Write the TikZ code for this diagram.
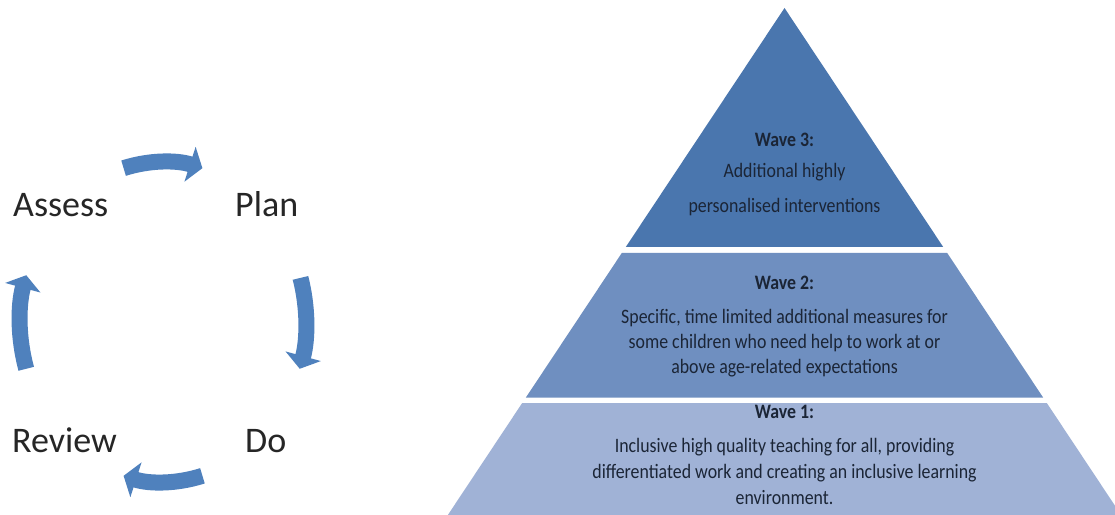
\documentclass[tikz,border=0pt]{standalone}
\usepackage{fontspec}
\setmainfont{Carlito}
\newfontfamily\wavefont[FakeStretch=0.87]{Carlito}
\usetikzlibrary{arrows.meta,calc}
\definecolor{arrowblue}{HTML}{4F81BD}
\definecolor{wavethree}{HTML}{4A76AE}
\definecolor{wavetwo}{HTML}{6F8FC0}
\definecolor{waveone}{HTML}{A0B2D6}
\definecolor{wavetext}{HTML}{1B2536}
\definecolor{labeltext}{HTML}{262626}
\tikzset{
  cyc/.style={draw=arrowblue, line width=16pt, -{Triangle[width=36pt,length=13pt]}, arrowblue},
  steplabel/.style={anchor=base west, inner sep=0pt, text=labeltext, font=\fontsize{36}{40}\selectfont},
  wavetitle/.style={inner sep=0pt, text=wavetext, font=\wavefont\bfseries\fontsize{20.5}{24}\selectfont},
  wavebody/.style={inner sep=0pt, text=wavetext, align=center, font=\wavefont\fontsize{20.5}{25}\selectfont}
}
\begin{document}
\begin{tikzpicture}[x=1pt,y=1pt]
\clip (0,0) rectangle (1115,514);
\fill[white] (0,0) rectangle (1115,514);

% cycle labels
\node[steplabel] (assess) at (13,297) {Assess};
\node[steplabel] (plan) at (235,297) {Plan};
\node[steplabel] (review) at (12,62) {Review};
\node[steplabel] (do) at (245,62) {Do};

% cycle arrows on an ellipse
\coordinate (cc) at (163,192);
\coordinate (ta) at ($(cc)+(106:143pt and 160pt)$);
\coordinate (ra) at ($(cc)+(16:143pt and 160pt)$);
\coordinate (ba) at ($(cc)+(-74:143pt and 160pt)$);
\coordinate (la) at ($(cc)+(197:143pt and 160pt)$);
\draw[cyc] (ta) arc[start angle=106, end angle=74, x radius=143pt, y radius=160pt];
\draw[cyc] (ra) arc[start angle=16, end angle=-17, x radius=143pt, y radius=160pt];
\draw[cyc] (ba) arc[start angle=-74, end angle=-106, x radius=143pt, y radius=160pt];
\draw[cyc] (la) arc[start angle=197, end angle=163, x radius=143pt, y radius=160pt];

% pyramid
\fill[wavethree] (784.5,506) -- (943.2,267) -- (625.8,267) -- cycle;
\fill[wavetwo] (621.8,261) -- (947.2,261) -- (1043.1,116.5) -- (525.9,116.5) -- cycle;
\fill[waveone] (522.2,111) -- (1046.8,111) -- (1123.8,-5) -- (445.2,-5) -- cycle;

% wave texts
\node[wavetitle] (w3t) at (784.5,374) {Wave 3:};
\node[wavebody, font=\wavefont\fontsize{20.5}{35}\selectfont] (w3b) at (784.5,324.5) {Additional highly\\personalised interventions};

\node[wavetitle] (w2t) at (784.5,231) {Wave 2:};
\node[wavebody] (w2b) at (784.5,171) {Specific, time limited additional measures for\\some children who need help to work at or\\above age-related expectations};

\node[wavetitle] (w1t) at (784.5,102) {Wave 1:};
\node[wavebody, font=\wavefont\fontsize{20.5}{26}\selectfont] (w1b) at (784.5,43) {Inclusive high quality teaching for all, providing\\differentiated work and creating an inclusive learning\\environment.};
\end{tikzpicture}
\end{document}
